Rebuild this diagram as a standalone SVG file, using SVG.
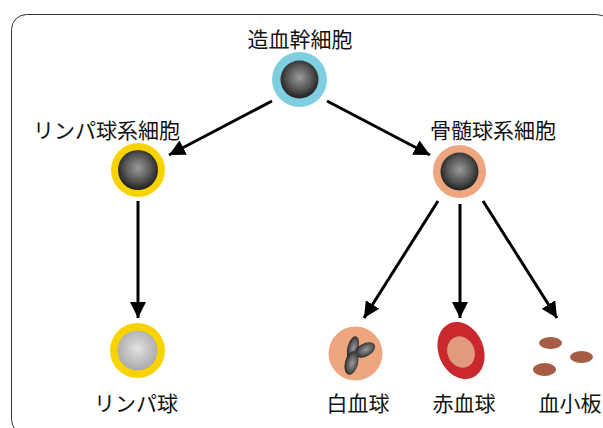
<svg xmlns="http://www.w3.org/2000/svg" width="603" height="428" viewBox="0 0 603 428">
  <defs>
    <radialGradient id="darkCore" cx="50%" cy="45%" r="55%">
      <stop offset="0" stop-color="#9a9a9a"/>
      <stop offset="0.6" stop-color="#555"/>
      <stop offset="1" stop-color="#1e1e1e"/>
    </radialGradient>
    <radialGradient id="lightCore" cx="50%" cy="45%" r="55%">
      <stop offset="0" stop-color="#e2e2e2"/>
      <stop offset="1" stop-color="#a9a9a9"/>
    </radialGradient>
    <radialGradient id="lobe" cx="55%" cy="50%" r="60%">
      <stop offset="0" stop-color="#9a9a9a"/>
      <stop offset="0.6" stop-color="#555"/>
      <stop offset="1" stop-color="#111"/>
    </radialGradient>
    <marker id="arrow" markerUnits="userSpaceOnUse" markerWidth="18" markerHeight="16" refX="16" refY="8" orient="auto">
      <path d="M0,0 L16,8 L0,16 Z" fill="#000"/>
    </marker>
  </defs>
  <style>
    .label { font-family: "Noto Sans CJK JP", "Noto Sans", sans-serif; font-size: 21px; fill: #111; }
    .edge { stroke: #000; stroke-width: 3; fill: none; marker-end: url(#arrow); }
  </style>

  <rect x="11.5" y="14.5" width="600" height="420" rx="15" ry="15" fill="#fff" stroke="#333" stroke-width="1"/>

  <g id="connectors">
    <line class="edge" x1="272" y1="101" x2="169" y2="155"/>
    <line class="edge" x1="327" y1="101" x2="430" y2="155"/>
    <line class="edge" x1="138" y1="201" x2="138" y2="318"/>
    <line class="edge" x1="438" y1="201" x2="364" y2="318"/>
    <line class="edge" x1="460" y1="204" x2="460" y2="318"/>
    <line class="edge" x1="483" y1="201" x2="557" y2="318"/>
  </g>

  <g id="stem-cell">
    <circle cx="299.5" cy="79.5" r="27.5" fill="#7fcfe1"/>
    <circle cx="299.5" cy="79.5" r="19" fill="url(#darkCore)"/>
    <text class="label" x="300" y="47" text-anchor="middle">造血幹細胞</text>
  </g>

  <g id="lymphoid">
    <circle cx="138" cy="170" r="27" fill="#f9d300"/>
    <circle cx="138" cy="170" r="20" fill="url(#darkCore)"/>
    <text class="label" x="33" y="138">リンパ球系細胞</text>
  </g>

  <g id="myeloid">
    <circle cx="459.5" cy="171.5" r="26.5" fill="#eea67f"/>
    <circle cx="459.5" cy="171.5" r="19" fill="url(#darkCore)"/>
    <text class="label" x="430" y="138">骨髄球系細胞</text>
  </g>

  <g id="lymphocyte">
    <circle cx="137.5" cy="350.5" r="27.5" fill="#f9d300"/>
    <circle cx="137.5" cy="350.5" r="20" fill="url(#lightCore)"/>
    <text class="label" x="136" y="411" text-anchor="middle">リンパ球</text>
  </g>

  <g id="white-blood-cell">
    <circle cx="355.5" cy="353.5" r="27" fill="#eea67f"/>
    <ellipse cx="0" cy="0" rx="5.5" ry="12" fill="url(#lobe)" transform="translate(353,348) rotate(15)"/>
    <ellipse cx="0" cy="0" rx="11" ry="6.5" fill="url(#lobe)" transform="translate(365,350) rotate(-28)"/>
    <ellipse cx="0" cy="0" rx="6.5" ry="12" fill="url(#lobe)" transform="translate(351.5,363) rotate(15)"/>
    <text class="label" x="358" y="411" text-anchor="middle">白血球</text>
  </g>

  <g id="red-blood-cell">
    <ellipse cx="0" cy="0" rx="22.5" ry="29.5" fill="#c9282f" transform="translate(461,350.5) rotate(-22)"/>
    <ellipse cx="0" cy="0" rx="13.5" ry="16" fill="#e29a7f" transform="translate(461,352) rotate(-22)"/>
    <text class="label" x="464" y="411" text-anchor="middle">赤血球</text>
  </g>

  <g id="platelets">
    <ellipse cx="550.5" cy="343" rx="11.5" ry="6" fill="#a65c45"/>
    <ellipse cx="581.5" cy="357" rx="11.5" ry="6" fill="#a65c45"/>
    <ellipse cx="544.5" cy="369.5" rx="11.5" ry="6.5" fill="#a65c45"/>
    <text class="label" x="570" y="411" text-anchor="middle">血小板</text>
  </g>
</svg>
